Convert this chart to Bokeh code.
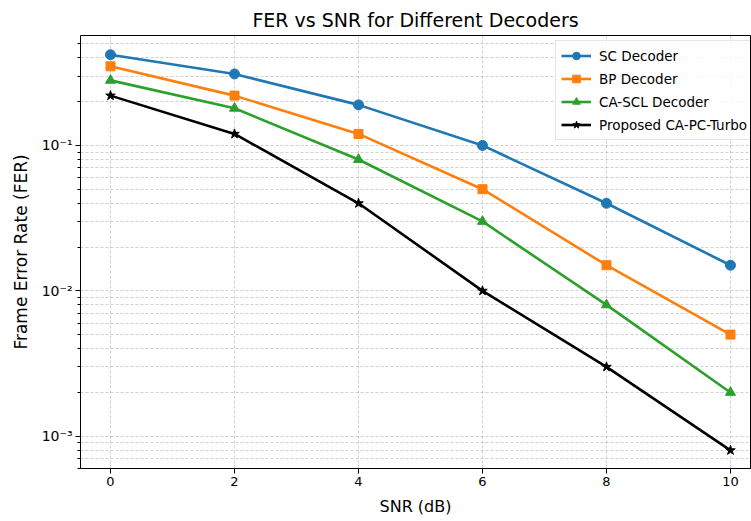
from bokeh.plotting import figure
from bokeh.models import Range1d, FixedTicker, Legend
from bokeh.embed import file_html
from bokeh.resources import INLINE

snr = [0, 2, 4, 6, 8, 10]
sc = [0.42, 0.31, 0.19, 0.10, 0.04, 0.015]
bp = [0.35, 0.22, 0.12, 0.05, 0.015, 0.005]
ca_scl = [0.28, 0.18, 0.08, 0.03, 0.008, 0.002]
proposed = [0.22, 0.12, 0.04, 0.01, 0.003, 0.0008]

series = [
    ("SC Decoder", sc, "#1f77b4", "circle", 10),
    ("BP Decoder", bp, "#ff7f0e", "square", 9),
    ("CA-SCL Decoder", ca_scl, "#2ca02c", "triangle", 10),
    ("Proposed CA-PC-Turbo", proposed, "black", "star", 10),
]

x_ticks = [0, 2, 4, 6, 8, 10]
y_ticks = [1e-3, 1e-2, 1e-1]
y_labels = {1e-3: "10\u207b\u00b3", 1e-2: "10\u207b\u00b2", 1e-1: "10\u207b\u00b9"}
minor = [m * 10.0 ** e for e in range(-4, 0) for m in range(2, 10)]

FONT = "DejaVu Sans"

p = figure(width=751, height=519, y_axis_type="log",
           x_range=Range1d(-0.484, 10.323), y_range=Range1d(6.0e-4, 0.57),
           output_backend="svg", toolbar_location=None,
           title="FER vs SNR for Different Decoders",
           min_border_left=80, min_border_right=1, min_border_top=35,
           min_border_bottom=51)

p.title.align = "center"
p.title.text_font = FONT
p.title.text_font_size = "19px"
p.title.text_font_style = "normal"
p.title.text_color = "black"

p.outline_line_color = "black"
p.outline_line_width = 1
p.background_fill_color = "white"
p.border_fill_color = "white"

p.xaxis.axis_label = "SNR (dB)"
p.yaxis.axis_label = "Frame Error Rate (FER)"
for ax in (p.xaxis[0], p.yaxis[0]):
    ax.axis_label_text_font = FONT
    ax.axis_label_text_font_style = "normal"
    ax.axis_label_text_color = "black"
    ax.major_label_text_font = FONT
    ax.major_label_text_font_size = "13px"
    ax.major_label_text_color = "black"
    ax.axis_line_color = "black"
    ax.major_tick_line_color = "black"
    ax.minor_tick_line_color = "black"
    ax.major_tick_out = 5
    ax.major_tick_in = 0
    ax.minor_tick_out = 3
    ax.minor_tick_in = 0
    ax.major_label_standoff = 3
p.yaxis.major_label_text_font_size = "14px"
p.xaxis.axis_label_text_font_size = "16px"
p.yaxis.axis_label_text_font_size = "17px"
p.xaxis.axis_label_standoff = 8
p.yaxis.axis_label_standoff = 8

p.xaxis.ticker = FixedTicker(ticks=x_ticks)
p.yaxis.ticker = FixedTicker(ticks=y_ticks, minor_ticks=minor)
p.yaxis.major_label_overrides = y_labels

p.xgrid.grid_line_color = "#b0b0b0"
p.xgrid.grid_line_dash = "3 2"
p.xgrid.grid_line_width = 0.6
p.ygrid.ticker = FixedTicker(ticks=y_ticks, minor_ticks=minor)
p.ygrid.grid_line_color = "#b0b0b0"
p.ygrid.grid_line_dash = "3 2"
p.ygrid.grid_line_width = 0.6
p.ygrid.minor_grid_line_color = "#b0b0b0"
p.ygrid.minor_grid_line_dash = "3 2"
p.ygrid.minor_grid_line_width = 0.6

items = []
for name, vals, col, mk, sz in series:
    r1 = p.line(snr, vals, line_color=col, line_width=2.6)
    r2 = p.scatter(snr, vals, marker=mk, size=sz, fill_color=col, line_color=col)
    items.append((name, [r1, r2]))

legend = Legend(items=items, location=(475, 328))
legend.label_text_font = FONT
legend.label_text_font_size = "13.5px"
legend.label_text_color = "black"
legend.border_line_color = "#cccccc"
legend.background_fill_alpha = 0.85
legend.glyph_width = 30
legend.glyph_height = 19
legend.spacing = 4
legend.padding = 5
legend.margin = 0
legend.label_standoff = 8
p.add_layout(legend)

open("out.html", "w").write(file_html(p, INLINE))
